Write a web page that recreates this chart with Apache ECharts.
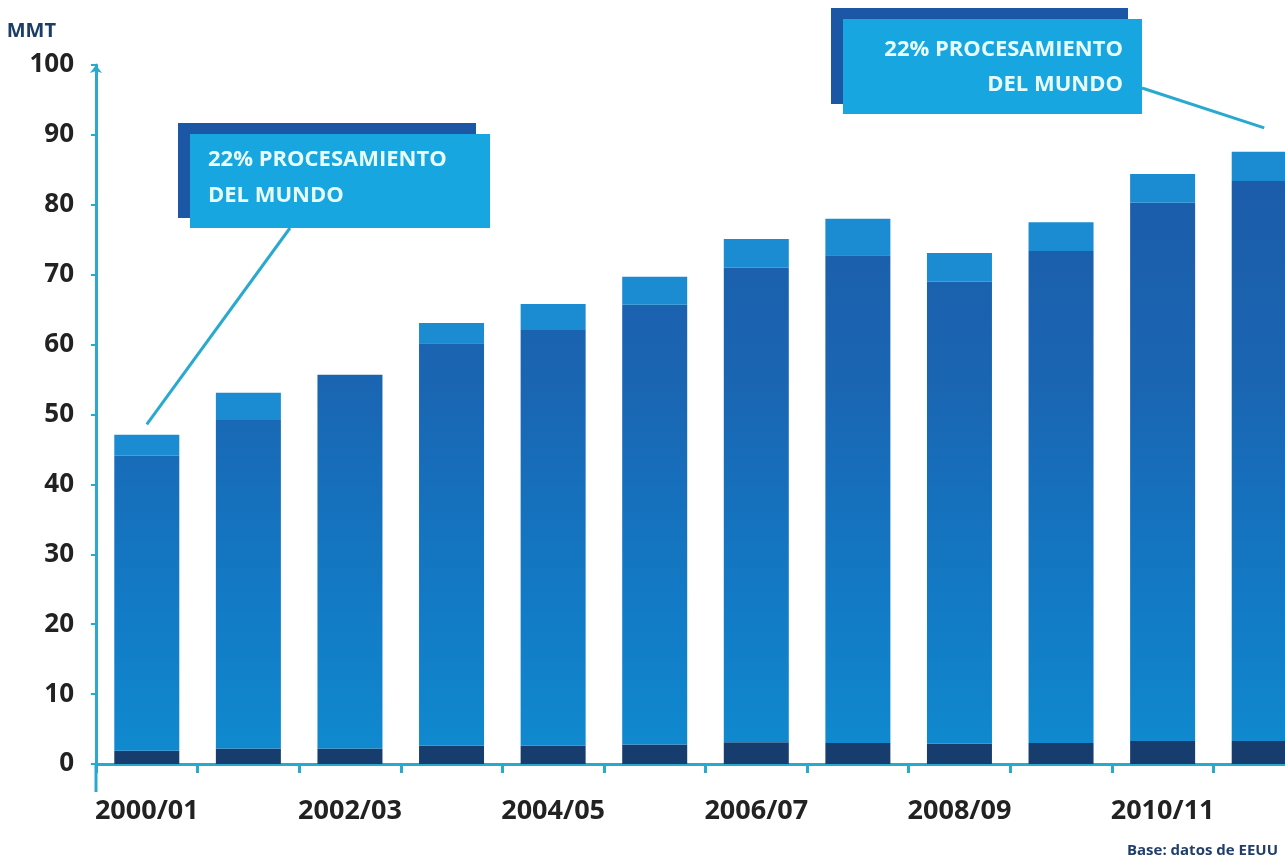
<!DOCTYPE html>
<html>
<head>
<meta charset="utf-8">
<script src="https://cdn.jsdelivr.net/npm/echarts@6/dist/echarts.min.js"></script>
<style>
  html, body { margin: 0; padding: 0; background: #fff; }
  #chart { width: 1285px; height: 862px; }
</style>
</head>
<body>
<div id="chart"></div>
<script>
// campañas
var seasons = ['2000/01', '2001/02', '2002/03', '2003/04', '2004/05', '2005/06',
               '2006/07', '2007/08', '2008/09', '2009/10', '2010/11', '2011/12'];
// tramo inferior (oscuro)
var baseVals = [1.9, 2.2, 2.2, 2.6, 2.6, 2.8, 3.1, 3.0, 2.9, 3.0, 3.3, 3.3];
// tramo central
var midVals = [42.2, 47.0, 53.5, 57.6, 59.5, 62.9, 67.9, 69.8, 66.1, 70.4, 77.0, 80.1];
// tramo superior (claro)
var topVals = [3.0, 3.9, 0, 2.9, 3.7, 4.0, 4.1, 5.2, 4.1, 4.1, 4.1, 4.2];
var yTicks = [0, 10, 20, 30, 40, 50, 60, 70, 80, 90, 100];

var noteText = ['22% PROCESAMIENTO', 'DEL MUNDO'];
var source = 'Base: datos de EEUU';

var FONT = '"Open Sans", "Noto Sans", sans-serif';
var axisColor = '#2aa9cf';

var myChart = echarts.init(document.getElementById('chart'));

var option = {
  backgroundColor: '#ffffff',
  animation: false,
  grid: { left: 96, right: -30, top: 65, bottom: 98, outerBoundsMode: 'none', containLabel: false },
  xAxis: {
    type: 'category',
    data: seasons,
    offset: 4,
    axisLine: { lineStyle: { color: axisColor, width: 3 } },
    axisTick: { show: true, interval: 0, length: 9, lineStyle: { color: axisColor, width: 3 } },
    axisLabel: {
      interval: 1,
      margin: 30,
      color: '#222',
      fontFamily: FONT,
      fontWeight: 'bold',
      fontSize: 27
    },
    splitLine: { show: false }
  },
  yAxis: {
    type: 'value',
    min: yTicks[0],
    max: yTicks[yTicks.length - 1],
    interval: 10,
    name: 'MMT',
    nameLocation: 'end',
    nameGap: 24,
    nameTextStyle: {
      color: '#1b3d66', fontFamily: FONT, fontWeight: 'bold', fontSize: 20,
      align: 'right', padding: [0, 40, 0, 0]
    },
    axisLine: { show: true, symbol: ['none', 'arrow'], symbolSize: [9, 8], lineStyle: { color: axisColor, width: 3 } },
    axisTick: { show: true, length: 5, lineStyle: { color: axisColor, width: 2 } },
    axisLabel: {
      margin: 22,
      color: '#222',
      fontFamily: FONT,
      fontWeight: 'bold',
      fontSize: 26
    },
    splitLine: { show: false }
  },
  series: [
    {
      name: 'base', type: 'bar', stack: 'total', barWidth: 65,
      data: baseVals,
      itemStyle: { color: '#173d6e' }
    },
    {
      name: 'medio', type: 'bar', stack: 'total', barWidth: 65,
      data: midVals,
      itemStyle: {
        color: new echarts.graphic.LinearGradient(0, 65, 0, 764, [
          { offset: 0, color: '#1c58a5' },
          { offset: 0.45, color: '#1a65b2' },
          { offset: 0.75, color: '#1379c4' },
          { offset: 1, color: '#0f8bd0' }
        ], true)
      }
    },
    {
      name: 'superior', type: 'bar', stack: 'total', barWidth: 65,
      data: topVals,
      itemStyle: { color: '#1b8bd2' }
    }
  ]
};
myChart.setOption(option);

// notas con línea hacia la barra
var p1 = myChart.convertToPixel({ gridIndex: 0 }, [0, 48.6]);
var p2 = myChart.convertToPixel({ gridIndex: 0 }, [11, 91]);
var noteFont = 'bold 22px ' + FONT;
myChart.setOption({
  graphic: [
    { type: 'line', z: 10, shape: { x1: 290, y1: 228, x2: p1[0], y2: p1[1] }, style: { stroke: axisColor, lineWidth: 3 } },
    { type: 'line', z: 10, shape: { x1: 1142, y1: 88, x2: p2[0], y2: p2[1] }, style: { stroke: axisColor, lineWidth: 3 } },
    { type: 'rect', z: 11, shape: { x: 178, y: 123, width: 298, height: 95 }, style: { fill: '#1b57a4' } },
    { type: 'rect', z: 12, shape: { x: 190, y: 134, width: 300, height: 94 }, style: { fill: '#17a6e0' } },
    { type: 'text', z: 13, x: 208, y: 160, style: { text: noteText[0], fill: '#e8fcff', font: noteFont, verticalAlign: 'middle' } },
    { type: 'text', z: 13, x: 208, y: 196, style: { text: noteText[1], fill: '#e8fcff', font: noteFont, verticalAlign: 'middle' } },
    { type: 'rect', z: 11, shape: { x: 831, y: 8, width: 297, height: 96 }, style: { fill: '#1b57a4' } },
    { type: 'rect', z: 12, shape: { x: 843, y: 19, width: 299, height: 95 }, style: { fill: '#17a6e0' } },
    { type: 'text', z: 13, x: 1123, y: 50, style: { text: noteText[0], fill: '#e8fcff', font: noteFont, align: 'right', verticalAlign: 'middle' } },
    { type: 'text', z: 13, x: 1123, y: 85, style: { text: noteText[1], fill: '#e8fcff', font: noteFont, align: 'right', verticalAlign: 'middle' } },
    // prolongación del eje vertical bajo el eje X
    { type: 'line', z: 5, shape: { x1: 96, y1: 764, x2: 96, y2: 792 }, style: { stroke: axisColor, lineWidth: 3 } },
    { type: 'text', z: 13, x: 1278, y: 851, style: { text: source, fill: '#1f3e6a', font: 'bold 15px ' + FONT, align: 'right', verticalAlign: 'middle' } }
  ]
});
</script>
</body>
</html>
